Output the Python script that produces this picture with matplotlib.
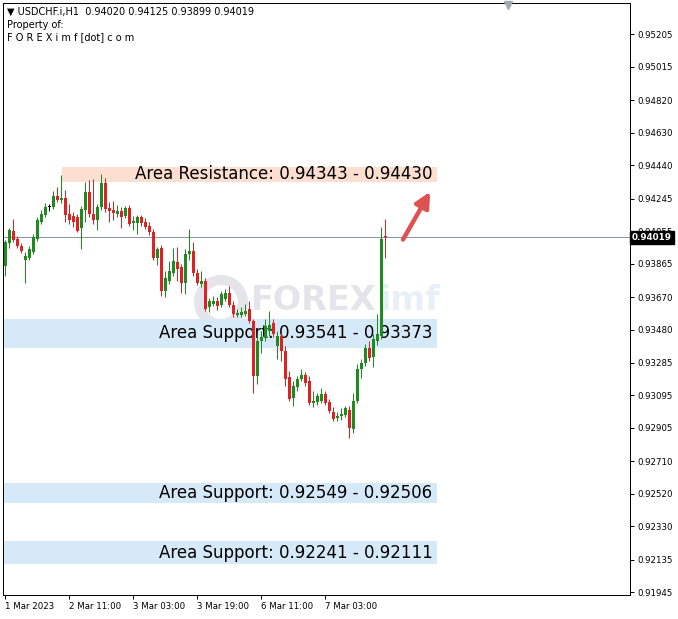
import matplotlib
matplotlib.use('Agg')
import matplotlib.pyplot as plt
from matplotlib.patches import Rectangle, Ellipse
import numpy as np

# ---------------- data (USDCHF.i H1) ----------------
opens = [0.93849, 0.93983, 0.94058, 0.94012, 0.93971, 0.93889, 0.93901, 0.93936, 0.94012, 0.94111,
         0.94151, 0.94198, 0.94198, 0.94262, 0.94239, 0.94250, 0.94157, 0.94146, 0.94140, 0.94076,
         0.94180, 0.94285, 0.94157, 0.94122, 0.94198, 0.94338, 0.94192, 0.94180, 0.94157, 0.94175,
         0.94146, 0.94192, 0.94105, 0.94105, 0.94140, 0.94111, 0.94087, 0.94052, 0.93901, 0.93954,
         0.93703, 0.93761, 0.93808, 0.93872, 0.93843, 0.93750, 0.93919, 0.93942, 0.93808, 0.93744,
         0.93761, 0.93610, 0.93628, 0.93645, 0.93622, 0.93657, 0.93692, 0.93622, 0.93564, 0.93564,
         0.93569, 0.93598, 0.93529, 0.93209, 0.93412, 0.93430, 0.93470, 0.93517, 0.93383, 0.93441,
         0.93354, 0.93203, 0.93081, 0.93145, 0.93191, 0.93214, 0.93179, 0.93051, 0.93057, 0.93063,
         0.93104, 0.93057, 0.92999, 0.92964, 0.92976, 0.92982, 0.93011, 0.92900, 0.93063, 0.93249,
         0.93284, 0.93372, 0.93319, 0.93412, 0.93441, 0.94020]
highs = [0.94006, 0.94076, 0.94128, 0.94029, 0.93988, 0.93936, 0.93971, 0.94041, 0.94140, 0.94180,
         0.94221, 0.94215, 0.94291, 0.94314, 0.94384, 0.94297, 0.94215, 0.94169, 0.94157, 0.94204,
         0.94343, 0.94355, 0.94361, 0.94215, 0.94390, 0.94367, 0.94227, 0.94233, 0.94210, 0.94198,
         0.94204, 0.94210, 0.94146, 0.94151, 0.94151, 0.94134, 0.94111, 0.94070, 0.93965, 0.93977,
         0.93820, 0.93878, 0.93954, 0.93965, 0.93866, 0.93948, 0.94070, 0.93994, 0.93831, 0.93820,
         0.93779, 0.93663, 0.93674, 0.93668, 0.93703, 0.93715, 0.93732, 0.93645, 0.93598, 0.93610,
         0.93628, 0.93645, 0.93540, 0.93441, 0.93470, 0.93540, 0.93587, 0.93540, 0.93470, 0.93459,
         0.93383, 0.93238, 0.93179, 0.93209, 0.93249, 0.93232, 0.93209, 0.93121, 0.93110, 0.93139,
         0.93121, 0.93075, 0.93028, 0.92999, 0.93022, 0.93034, 0.93034, 0.93110, 0.93278, 0.93307,
         0.93395, 0.93412, 0.93453, 0.93569, 0.94082, 0.94125]
lows = [0.93791, 0.93959, 0.93994, 0.93954, 0.93930, 0.93750, 0.93884, 0.93924, 0.94000, 0.94099,
        0.94140, 0.94175, 0.94186, 0.94227, 0.94221, 0.94111, 0.94099, 0.94082, 0.94052, 0.93948,
        0.94111, 0.94140, 0.94099, 0.94064, 0.94180, 0.94169, 0.94111, 0.94122, 0.94140, 0.94076,
        0.94134, 0.94087, 0.94064, 0.94041, 0.94087, 0.94070, 0.94035, 0.93889, 0.93860, 0.93674,
        0.93668, 0.93744, 0.93791, 0.93761, 0.93692, 0.93686, 0.93889, 0.93791, 0.93738, 0.93727,
        0.93587, 0.93581, 0.93616, 0.93593, 0.93610, 0.93645, 0.93610, 0.93552, 0.93552, 0.93552,
        0.93558, 0.93517, 0.93110, 0.93162, 0.93342, 0.93412, 0.93441, 0.93436, 0.93307, 0.93296,
        0.93150, 0.93063, 0.93034, 0.93121, 0.93179, 0.93150, 0.93040, 0.93028, 0.93040, 0.93051,
        0.93040, 0.92993, 0.92947, 0.92947, 0.92952, 0.92970, 0.92848, 0.92877, 0.93051, 0.93197,
        0.93267, 0.93296, 0.93261, 0.93389, 0.93424, 0.93899]
closes = [0.93994, 0.94064, 0.94006, 0.93971, 0.93942, 0.93907, 0.93948, 0.94023, 0.94122, 0.94157,
          0.94198, 0.94198, 0.94262, 0.94239, 0.94250, 0.94151, 0.94122, 0.94111, 0.94058, 0.94186,
          0.94285, 0.94157, 0.94122, 0.94198, 0.94338, 0.94186, 0.94175, 0.94163, 0.94175, 0.94140,
          0.94192, 0.94099, 0.94116, 0.94140, 0.94105, 0.94082, 0.94052, 0.93901, 0.93948, 0.93703,
          0.93779, 0.93820, 0.93878, 0.93831, 0.93750, 0.93924, 0.93942, 0.93808, 0.93750, 0.93761,
          0.93598, 0.93645, 0.93645, 0.93616, 0.93686, 0.93692, 0.93622, 0.93569, 0.93575, 0.93581,
          0.93587, 0.93529, 0.93209, 0.93412, 0.93436, 0.93500, 0.93505, 0.93453, 0.93441, 0.93354,
          0.93191, 0.93075, 0.93150, 0.93191, 0.93214, 0.93168, 0.93051, 0.93063, 0.93092, 0.93104,
          0.93051, 0.93005, 0.92958, 0.92976, 0.92987, 0.93022, 0.92906, 0.93063, 0.93249, 0.93284,
          0.93372, 0.93313, 0.93424, 0.93453, 0.94012, 0.94019]

xtick_pos = [0, 16, 32, 48, 64, 80]
xtick_labels = ['1 Mar 2023', '2 Mar 11:00', '3 Mar 03:00', '3 Mar 19:00', '6 Mar 11:00', '7 Mar 03:00']
ytick_vals = [0.95205, 0.95015, 0.94820, 0.94630, 0.94440, 0.94245, 0.94055, 0.93865, 0.93670,
              0.93480, 0.93285, 0.93095, 0.92905, 0.92710, 0.92520, 0.92330, 0.92135, 0.91945]

zone_names = ['Area Resistance', 'Area Support', 'Area Support', 'Area Support']
zone_a = [0.94343, 0.93541, 0.92549, 0.92241]
zone_b = [0.94430, 0.93373, 0.92506, 0.92111]
zone_low = [0.94343, 0.93373, 0.92464, 0.92111]
zone_high = [0.94430, 0.93541, 0.92580, 0.92241]
zone_start = [14.25, -0.5, -0.5, -0.5]
zone_end = 108.0
zone_colors = ['#fcdfd0', '#d6e9f9', '#d6e9f9', '#d6e9f9']

last_price = 0.94019
header = '\u25bc USDCHF.i,H1  0.94020 0.94125 0.93899 0.94019'

arrow_tail = (99.5, 0.94006)
arrow_head = (106.3, 0.94285)

# ---------------- figure ----------------
W, H = 678, 619
fig = plt.figure(figsize=(W / 100, H / 100), dpi=100)
fig.patch.set_facecolor('white')
ax = fig.add_axes([3 / W, 24 / H, 627 / W, 592 / H])
ax.set_xlim(-0.5, 156.25)
ax.set_ylim(0.91928, 0.95389)

px = 0.72  # one pixel in points

# watermark (behind everything)
wm_col = '#dcdce3'
ax.add_patch(Ellipse((221 / W, 1 - 302 / H), 44 / W, 44 / H, fill=False, lw=10 * px,
                     ec=wm_col, alpha=0.75, transform=fig.transFigure, zorder=0.5))
ax.text(251 / W, 1 - 301 / H, 'FOREX', transform=fig.transFigure, fontsize=24,
        fontweight='bold', color=wm_col, alpha=0.75, va='center', ha='left', zorder=0.5,
        family='DejaVu Sans')
ax.text(379 / W, 1 - 301 / H, 'imf', transform=fig.transFigure, fontsize=24,
        fontweight='bold', color='#e2edf6', alpha=0.8, va='center', ha='left', zorder=0.5,
        family='DejaVu Sans')

# zones
for name, a, b, lo, hi, x0, c in zip(zone_names, zone_a, zone_b, zone_low, zone_high,
                                      zone_start, zone_colors):
    ax.add_patch(Rectangle((x0, lo), zone_end - x0, hi - lo, facecolor=c, edgecolor='none',
                           zorder=1))
    ax.text(zone_end - 1.1, (lo + hi) / 2, f'{name}: {a:.5f} - {b:.5f}', ha='right',
            va='center', fontsize=12, color='#000000', zorder=2, family='DejaVu Sans')

# last price line
ax.axhline(last_price, color='#8a96a3', lw=1 * px, zorder=2)

# candles
o = np.array(opens); h = np.array(highs); l = np.array(lows); c = np.array(closes)
x = np.arange(len(o))
cols = np.where(c > o, '#1f8a1f', np.where(c < o, '#dc2222', '#000000'))
ax.vlines(x, l, h, colors=cols, lw=1 * px, zorder=3)
bot = np.minimum(o, c)
hgt = np.maximum(np.abs(c - o), 0.00006)
ax.bar(x, hgt, bottom=bot, width=0.75, color=cols, linewidth=0, zorder=3)

# arrow
ax.annotate('', xy=arrow_head, xytext=arrow_tail,
            arrowprops=dict(arrowstyle='-|>,head_length=0.9,head_width=0.45', color='#e05252',
                            lw=3.2, shrinkA=0, shrinkB=0), zorder=4)

# axes styling
for s in ax.spines.values():
    s.set_color('black'); s.set_linewidth(1 * px)
ax.yaxis.tick_right()
ax.set_yticks(ytick_vals)
ax.set_yticklabels([f'{v:.5f}' for v in ytick_vals])
ax.tick_params(axis='y', direction='out', length=3, width=0.7, labelsize=6.2, pad=2,
               colors='black')
ax.set_xticks(xtick_pos)
ax.set_xticklabels(xtick_labels, ha='left')
ax.tick_params(axis='x', direction='out', length=3, width=0.7, labelsize=6.2, pad=2)

# last price box (covers the partly hidden 0.94055 label, as in the terminal)
ax.text(1.003, last_price, f'{last_price:.5f}', transform=ax.get_yaxis_transform(),
        ha='left', va='center', fontsize=6.3, color='white', fontweight='bold',
        bbox=dict(boxstyle='square,pad=0.2', fc='black', ec='black'), clip_on=False, zorder=10)

# header texts
fig.text(7 / W, 1 - 12 / H, header, fontsize=7, va='center', ha='left', color='black')
fig.text(7 / W, 1 - 25 / H, 'Property of:', fontsize=7, va='center', ha='left', color='black')
fig.text(7 / W, 1 - 37 / H, 'F O R E X i m f [dot] c o m', fontsize=7, va='center', ha='left',
         color='black')

# small marker of the terminal (chart shift)
ax.plot([0.805], [0.997], marker='v', ms=6, color='#a0a8b0', transform=ax.transAxes,
        clip_on=False, zorder=5)

fig.savefig('out.png', dpi=100)
